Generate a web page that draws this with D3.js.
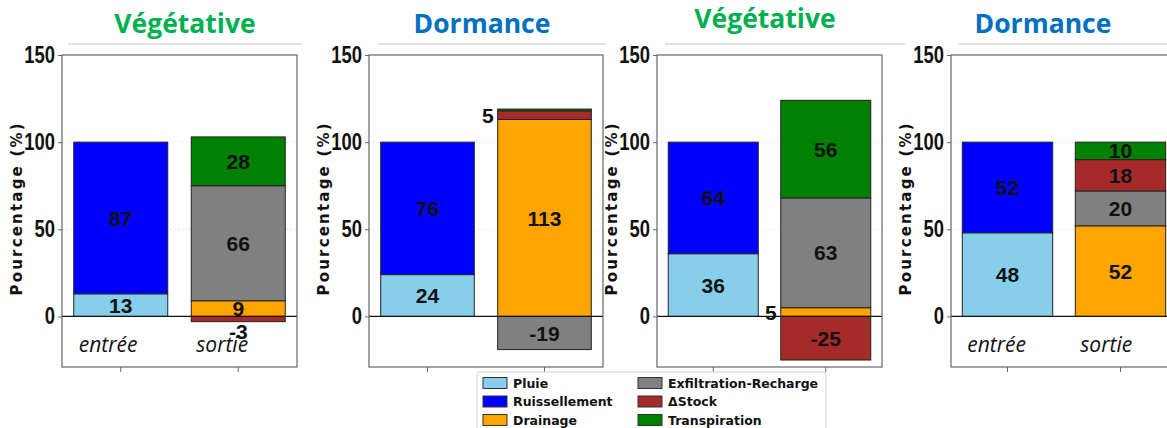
<!DOCTYPE html>
<html>
<head>
<meta charset="utf-8">
<script src="https://cdn.jsdelivr.net/npm/d3@7"></script>
<style>
  body { margin: 0; background: #fff; }
  svg { display: block; }
</style>
</head>
<body>
<div id="chart"></div>
<script>
// data
var phases = ["Végétative", "Dormance", "Végétative", "Dormance"];
var phaseColors = ["#00b050", "#0070c0", "#00b050", "#0070c0"];
var categories = ["entrée", "sortie"];
var seriesNames = ["Pluie", "Ruissellement", "Drainage", "Exfiltration-Recharge", "ΔStock", "Transpiration"];
var seriesColors = ["#87ceeb", "#0000ff", "#ffa500", "#808080", "#a52a2a", "#008000"];

// entrée
var pluie = [13, 24, 36, 48];
var ruissellement = [87, 76, 64, 52];
// sortie
var drainage = [9, 113, 5, 52];
var exfiltration = [66, -19, 63, 20];
var dStock = [-3, 5, -25, 18];
var transpiration = [28, 1, 56, 10];

var yTicks = [0, 50, 100, 150];
var yDomain = [-29, 150];

var svgWidth = 1167;
var svgHeight = 428;

// panel boxes (the screenshot panels are not all the same width)
var panels = [
    {left: 62, right: 297, titleX: 185, titleY: 33, lineX: [68, 302], xLabels: true},
    {left: 369, right: 603, titleX: 482, titleY: 33, lineX: [378, 606], xLabels: false},
    {left: 657, right: 882, titleX: 765, titleY: 28, lineX: [665, 905], xLabels: false},
    {left: 951, right: 1177, titleX: 1043, titleY: 33, lineX: [958, 1167], xLabels: true}
];
var plotTop = 55;
var plotBottom = 367;
var narrow = 0.8; // tick labels are a condensed face

var svg = d3.select("#chart")
    .append("svg")
    .attr("width", svgWidth)
    .attr("height", svgHeight);

svg.append("rect")
    .attr("width", svgWidth)
    .attr("height", svgHeight)
    .attr("fill", "#fff");

var y = d3.scaleLinear()
    .domain(yDomain)
    .range([plotBottom, plotTop]);

var stack = d3.stack()
    .keys(seriesNames)
    .offset(d3.stackOffsetDiverging);

phases.forEach(function(phase, i) {
    var p = panels[i];

    // one row per bar, zero for series that belong to the other bar
    var rows = [
        {cat: "entrée", "Pluie": pluie[i], "Ruissellement": ruissellement[i],
         "Drainage": 0, "Exfiltration-Recharge": 0, "ΔStock": 0, "Transpiration": 0},
        {cat: "sortie", "Pluie": 0, "Ruissellement": 0,
         "Drainage": drainage[i], "Exfiltration-Recharge": exfiltration[i],
         "ΔStock": dStock[i], "Transpiration": transpiration[i]}
    ];
    var stacked = stack(rows);

    var x = d3.scaleBand()
        .domain(categories)
        .range([p.left, p.right])
        .paddingInner(0.2)
        .paddingOuter(0.1);

    var g = svg.append("g");

    // title + thin rule under it
    g.append("line")
        .attr("x1", p.lineX[0])
        .attr("x2", p.lineX[1])
        .attr("y1", 44)
        .attr("y2", 44)
        .attr("stroke", "#e2e2e2")
        .attr("stroke-width", 2);

    g.append("text")
        .attr("x", p.titleX)
        .attr("y", p.titleY)
        .attr("text-anchor", "middle")
        .attr("font-family", "'Open Sans', 'Liberation Sans', sans-serif")
        .attr("font-weight", "bold")
        .attr("font-size", "26.5px")
        .attr("fill", phaseColors[i])
        .text(phase);

    // grid
    g.selectAll(".grid")
        .data([50, 100])
        .enter()
        .append("line")
        .attr("x1", p.left)
        .attr("x2", p.right)
        .attr("y1", d => y(d))
        .attr("y2", d => y(d))
        .attr("stroke", "#e4e4e4")
        .attr("stroke-dasharray", "2,2");

    // bars
    stacked.forEach(function(layer, k) {
        g.selectAll(null)
            .data(layer.filter(d => d[1] - d[0] !== 0))
            .enter()
            .append("rect")
            .attr("x", d => x(d.data.cat))
            .attr("width", x.bandwidth())
            .attr("y", d => y(Math.max(d[0], d[1])))
            .attr("height", d => Math.abs(y(d[0]) - y(d[1])))
            .attr("fill", seriesColors[k])
            .attr("stroke", "#222")
            .attr("stroke-width", 1);
    });

    // value labels
    stacked.forEach(function(layer) {
        layer.forEach(function(d) {
            var v = d.data[layer.key];
            if (Math.abs(v) < 2) return;
            var mid = (d[0] + d[1]) / 2;
            var lx = x(d.data.cat) + x.bandwidth() / 2;
            var ly = y(mid);
            var anchor = "middle";
            if (Math.abs(v) < 6 && v > 0) {
                lx = x(d.data.cat) - 4;
                anchor = "end";
            } else if (Math.abs(v) < 6) {
                ly = y(Math.min(d[0], d[1])) + 10;
            }
            g.append("text")
                .attr("x", lx)
                .attr("y", ly)
                .attr("dy", "0.36em")
                .attr("text-anchor", anchor)
                .attr("font-family", "'Liberation Sans', Arial, sans-serif")
                .attr("font-weight", "bold")
                .attr("font-size", "21px")
                .attr("fill", "#111")
                .text(v);
        });
    });

    // zero line
    g.append("line")
        .attr("x1", p.left)
        .attr("x2", p.right)
        .attr("y1", y(0))
        .attr("y2", y(0))
        .attr("stroke", "#111")
        .attr("stroke-width", 1.3);

    // frame
    g.append("rect")
        .attr("x", p.left)
        .attr("y", plotTop)
        .attr("width", p.right - p.left)
        .attr("height", plotBottom - plotTop)
        .attr("fill", "none")
        .attr("stroke", "#666")
        .attr("stroke-width", 1.2);

    // axes
    var leftAxis = d3.axisLeft(y).tickValues(yTicks).tickSize(4).tickPadding(3);
    var yAxisG = g.append("g")
        .attr("transform", `translate(${p.left}, 0)`)
        .call(leftAxis);
    yAxisG.select(".domain").remove();
    yAxisG.selectAll(".tick line").attr("stroke", "#666");
    yAxisG.selectAll(".tick text")
        .attr("x", -7 / narrow)
        .attr("transform", `scale(${narrow}, 1)`)
        .attr("font-family", "'Liberation Sans', Arial, sans-serif")
        .attr("font-weight", "bold")
        .attr("font-size", "23px")
        .attr("fill", "#111");

    var bottomAxis = d3.axisBottom(x).tickSize(5).tickFormat("");
    var xAxisG = g.append("g")
        .attr("transform", `translate(0, ${plotBottom})`)
        .call(bottomAxis);
    xAxisG.select(".domain").remove();
    xAxisG.selectAll(".tick line").attr("stroke", "#666");

    // y axis title
    g.append("text")
        .attr("transform", `translate(${p.left - 45}, ${y(62)}) rotate(-90)`)
        .attr("text-anchor", "middle")
        .attr("dy", "0.35em")
        .attr("font-family", "'DejaVu Sans', sans-serif")
        .attr("font-weight", "bold")
        .attr("font-size", "15px")
        .attr("letter-spacing", "2.2px")
        .attr("fill", "#111")
        .text("Pourcentage (%)");

    // entrée / sortie labels in the outer panels
    if (p.xLabels) {
        g.selectAll(".catLabel")
            .data(categories)
            .enter()
            .append("text")
            .attr("x", d => x(d) + 5)
            .attr("y", 352)
            .attr("font-family", "'Open Sans', sans-serif")
            .attr("font-style", "italic")
            .attr("font-size", "21px")
            .attr("fill", "#111")
            .text(d => d);
    }
});

// legend
var legend = svg.append("g").attr("transform", "translate(477, 372)");
legend.append("rect")
    .attr("width", 349)
    .attr("height", 70)
    .attr("rx", 3)
    .attr("fill", "#fff")
    .attr("stroke", "#d0d0d0");

var legendItems = legend.selectAll(".item")
    .data(seriesNames)
    .enter()
    .append("g")
    .attr("transform", (d, i) => `translate(${i < 3 ? 6 : 161}, ${11 + (i % 3) * 18.5})`);

legendItems.append("rect")
    .attr("y", -5.5)
    .attr("width", 24)
    .attr("height", 11)
    .attr("fill", (d, i) => seriesColors[i])
    .attr("stroke", "#333")
    .attr("stroke-width", 1);

legendItems.append("text")
    .attr("x", 30)
    .attr("dy", "0.36em")
    .attr("font-family", "'DejaVu Sans', sans-serif")
    .attr("font-weight", "bold")
    .attr("font-size", "12.5px")
    .attr("fill", "#111")
    .text(d => d);
</script>
</body>
</html>
